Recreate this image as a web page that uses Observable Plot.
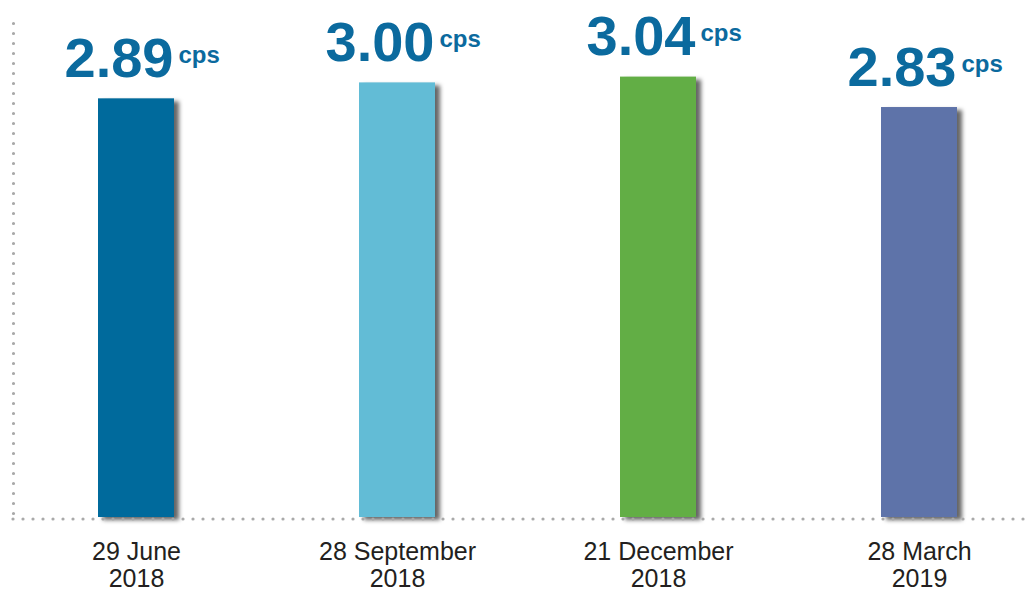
<!DOCTYPE html>
<html>
<head>
<meta charset="utf-8">
<script src="https://cdn.jsdelivr.net/npm/d3@7"></script>
<script src="https://cdn.jsdelivr.net/npm/@observablehq/plot@0.6"></script>
<style>
  html, body { margin: 0; padding: 0; background: #ffffff; }
  #chart svg { display: block; }
  #chart g[aria-label="bar"] rect { filter: drop-shadow(5px 3px 2px rgba(0,0,0,0.6)); }
  #chart [aria-label^="y-axis"] path,
  #chart [aria-label^="y-axis"] line,
  #chart line[aria-label^="y-axis"],
  #chart path[aria-label^="y-axis"],
  #chart line[aria-label="frame"],
  #chart [aria-label="frame"] line,
  #chart path.domain {
    stroke: #a9a9a9 !important; stroke-width: 3.2px !important; stroke-dasharray: 0 10 !important; stroke-linecap: round !important; stroke-opacity: 1 !important;
  }
</style>
</head>
<body>
<div id="chart"></div>
<script>
// Data
const dates = ["29 June\n2018", "28 September\n2018", "21 December\n2018", "28 March\n2019"];
const values = [2.89, 3.00, 3.04, 2.83];
const barColors = ["#006a9c", "#62bcd6", "#62ae45", "#5e73a9"];
const unit = "cps";

const labelColor = "#0b6a9e";
const fmt = d3.format(".2f");
const data = dates.map((d, i) => ({date: d, value: values[i]}));

const chart = Plot.plot({
  width: 1029,
  height: 592,
  marginTop: 23,
  marginBottom: 75,
  marginLeft: 13,
  marginRight: 0,
  style: {fontFamily: "Liberation Sans, Arial, sans-serif", background: "#ffffff"},
  x: {domain: dates, paddingInner: 0.71, paddingOuter: 0.296, align: 0.54, axis: null},
  y: {domain: [0, 3.41], ticks: [], tickSize: 0, label: null, line: true, axis: "left"},
  color: {domain: dates, range: barColors},
  marks: [
    Plot.barY(data, {x: "date", y: "value", fill: "date"}),
    Plot.ruleY([0], {stroke: "#a9a9a9", strokeWidth: 3.2, strokeDasharray: "0 10", strokeLinecap: "round", dy: 1.5}),
    Plot.text(data, {x: "date", y: "value", text: d => fmt(d.value), textAnchor: "end", lineAnchor: "bottom",
      dx: 37, dy: -22, fontSize: 56, fontWeight: "bold", fill: labelColor, fontFamily: "Liberation Sans, Arial, sans-serif"}),
    Plot.text(data, {x: "date", y: "value", text: () => unit, textAnchor: "start", lineAnchor: "bottom",
      dx: 42, dy: -36, fontSize: 24, fontWeight: "bold", fill: labelColor, fontFamily: "Liberation Sans, Arial, sans-serif"}),
    Plot.text(data, {x: "date", y: () => 0, text: "date", textAnchor: "middle", lineAnchor: "top",
      dy: 23, fontSize: 25, lineHeight: 1.08, fill: "#231f20", fontFamily: "Liberation Sans, Arial, sans-serif"})
  ]
});
document.getElementById("chart").appendChild(chart);
</script>
</body>
</html>
